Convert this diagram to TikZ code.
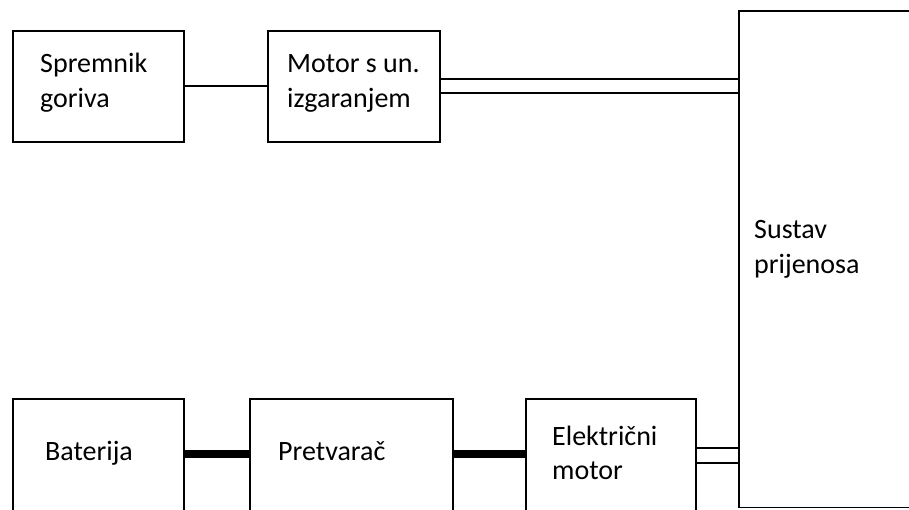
\documentclass[tikz,border=0pt]{standalone}
\usepackage{fontspec}
\setmainfont{Carlito}
\begin{document}
\begin{tikzpicture}[x=1pt,y=-1pt,
  box/.style={draw, line width=1.6pt, inner sep=0pt, anchor=north west},
  lbl/.style={anchor=base west, inner sep=0pt, font=\fontsize{28}{34}\selectfont},
  conn/.style={line width=1.6pt},
  heavy/.style={line width=8pt}]
\useasboundingbox (0,0) rectangle (909,510);
% boxes
\node[box, minimum width=171pt, minimum height=111pt] (spr) at (12,30) {};
\node[box, minimum width=172pt, minimum height=111pt] (mot) at (267,30) {};
\node[box, draw=none, minimum width=260pt, minimum height=495pt] (sus) at (739,11) {};
\draw[conn] (sus.north east) -- (sus.north west) -- (sus.south west) -- (sus.south east);
\node[box, minimum width=171pt, minimum height=130pt] (bat) at (12,398) {};
\node[box, minimum width=203pt, minimum height=130pt] (pre) at (249,398) {};
\node[box, minimum width=170pt, minimum height=130pt] (ele) at (525,398) {};
% labels
\node[lbl] (t1) at (40,73) {Spremnik};
\node[lbl] (t2) at (40,108) {goriva};
\node[lbl] (t3) at (287,73) {Motor s un.};
\node[lbl] (t4) at (287,108) {izgaranjem};
\node[lbl] (t5) at (754,239) {Sustav};
\node[lbl] (t6) at (754,273) {prijenosa};
\node[lbl] (t7) at (45,460) {Baterija};
\node[lbl] (t8) at (278,460) {Pretvarač};
\node[lbl] (t9) at (552,445) {Električni};
\node[lbl] (t10) at (552,479) {motor};
% connectors
\draw[conn] (spr.east) -- (mot.west);
\coordinate (m1) at ([yshift=7pt]mot.east);
\coordinate (m2) at ([yshift=-7pt]mot.east);
\draw[conn] (m1) -- (m1 -| sus.west);
\draw[conn] (m2) -- (m2 -| sus.west);
\coordinate (b1) at ([yshift=10pt]bat.east);
\draw[heavy] (b1) -- (b1 -| pre.west);
\coordinate (p1) at ([yshift=10pt]pre.east);
\draw[heavy] (p1) -- (p1 -| ele.west);
\coordinate (e1) at ([yshift=16pt]ele.east);
\coordinate (e2) at ([yshift=1pt]ele.east);
\draw[conn] (e1) -- (e1 -| sus.west);
\draw[conn] (e2) -- (e2 -| sus.west);
\end{tikzpicture}
\end{document}
